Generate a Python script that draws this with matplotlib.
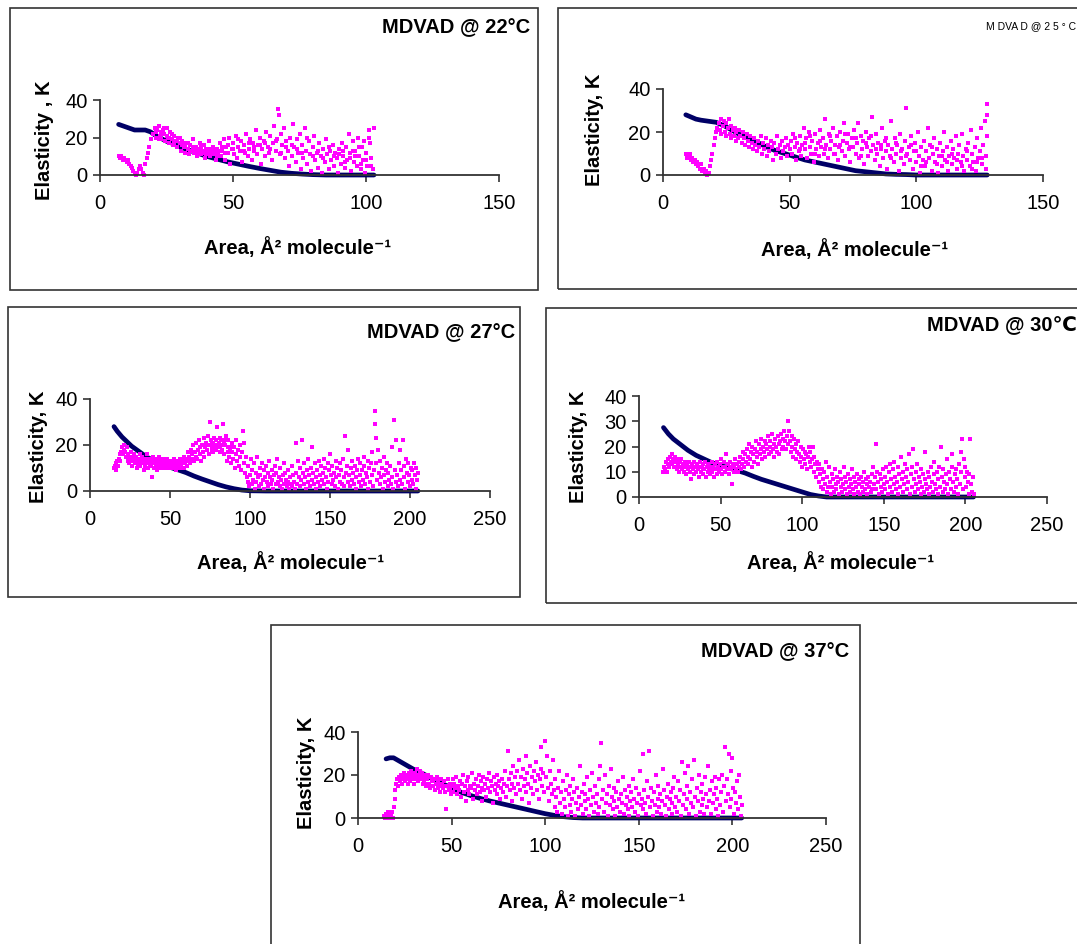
import matplotlib
matplotlib.use('Agg')
import matplotlib.pyplot as plt
from matplotlib.patches import Rectangle

# monolayer elasticity vs area, five temperatures
# blue = smoothed curve, pink = point-by-point values

blue_x_22 = [7, 9, 11, 13, 15, 17, 19, 21, 23, 25, 27, 30, 33, 36, 40, 44, 48, 52,
             56, 60, 64, 68, 72, 76, 80, 85, 90, 95, 100, 103]
blue_y_22 = [27, 26, 25, 24, 24, 24, 23, 21, 19.5, 18, 17, 15, 13.5, 12, 10, 8.5, 7,
             5.8, 4.6, 3.5, 2.5, 1.5, 0.9, 0.5, 0.2, 0, 0, 0, 0, 0]

pink_22 = [(7, 10), (7.5, 9), (8, 10), (8.5, 8), (9, 9), (9.5, 8), (10, 7), (10.5, 8), (11, 6),
           (11.5, 5), (12, 4), (12.5, 2), (13, 1), (13.5, 0), (14, 1), (14.5, 3), (15, 5),
           (15.5, 3), (16, 1), (16.5, 0), (17, 6), (17.5, 9), (18, 12), (18.5, 15), (19, 19),
           (20, 22), (20.5, 25), (21, 20), (21.5, 24), (22, 26), (22.5, 21), (23, 19), (23.5, 24),
           (24, 22), (24.5, 18), (25, 25), (25.5, 20), (26, 17), (26.5, 23), (27, 19), (27.5, 16),
           (28, 21), (28.5, 18), (29, 15), (29.5, 20), (30, 17), (30.5, 13), (31, 18), (31.5, 15),
           (32, 12), (32.5, 17), (33, 14), (33.5, 11), (34, 16), (34.5, 13), (35, 19), (35.5, 12),
           (36, 15), (36.5, 10), (37, 14), (37.5, 17), (38, 11), (38.5, 13), (39, 16), (39.5, 9),
           (40, 14), (40.5, 12), (41, 18), (41.5, 10), (42, 13), (42.5, 15), (43, 11), (43.5, 8),
           (44, 14), (44.5, 12), (45, 17), (45.5, 10), (46, 13), (46.5, 19), (47, 8), (47.5, 15),
           (48, 12), (48.5, 20), (49, 6), (49.5, 14), (50, 17), (50.5, 11), (51, 21), (51.5, 9),
           (52, 15), (52.5, 13), (53, 18), (53.5, 7), (54, 16), (54.5, 12), (55, 22), (55.5, 10),
           (56, 14), (56.5, 19), (57, 8), (57.5, 17), (58, 13), (58.5, 24), (59, 11), (59.5, 16),
           (60, 20), (60.5, 6), (61, 14), (61.5, 18), (62, 10), (62.5, 23), (63, 15), (63.5, 12),
           (64, 21), (64.5, 8), (65, 17), (65.5, 26), (66, 13), (66.5, 19), (67, 35), (67.2, 32),
           (67.5, 11), (68, 22), (68.5, 16), (69, 25), (69.5, 9), (70, 18), (70.5, 13), (71, 5),
           (71.5, 20), (72, 10), (72.5, 27), (73, 15), (73.5, 7), (74, 19), (74.5, 12), (75, 22),
           (75.5, 3), (76, 16), (76.5, 9), (77, 25), (77.5, 13), (78, 6), (78.5, 18), (79, 11),
           (79.5, 2), (80, 15), (80.5, 21), (81, 8), (81.5, 12), (82, 4), (82.5, 17), (83, 10),
           (83.5, 1), (84, 14), (84.5, 7), (85, 19), (85.5, 11), (86, 3), (86.5, 13), (87, 8),
           (87.5, 16), (88, 5), (88.5, 12), (89, 9), (89.5, 1), (90, 14), (90.5, 6), (91, 17),
           (91.5, 10), (92, 4), (92.5, 15), (93, 8), (93.5, 22), (94, 12), (94.5, 2), (95, 18),
           (95.5, 7), (96, 13), (96.5, 5), (97, 20), (97.5, 10), (98, 3), (98.5, 15), (99, 8),
           (99.5, 1), (100, 12), (100.5, 5), (101, 24), (101.5, 17), (102, 9), (102.5, 3), (103, 25),
           (21, 23), (22, 19), (23, 23), (24, 25), (25, 21), (26, 20), (27, 22), (28, 17), (29, 18),
           (30, 20), (31, 16), (32, 15), (33, 17), (34, 13), (35, 15), (36, 13), (37, 12), (38, 15),
           (39, 12), (40, 11), (41, 14), (42, 11), (43, 13), (44, 10), (45, 13), (46, 15), (47, 12),
           (48, 16), (50, 14), (52, 19), (54, 13), (56, 17), (58, 15), (60, 16), (62, 17), (64, 14),
           (66, 18), (68, 12), (70, 15), (72, 16), (74, 14), (76, 12), (78, 20), (80, 10), (82, 13),
           (84, 9), (86, 15), (88, 10), (90, 11), (92, 7), (94, 9), (96, 10), (98, 6), (100, 8),
           (102, 5), (97.3, 15), (99.2, 18), (101.3, 20), (95.3, 13), (91.4, 13)]

blue_x_25 = [9, 11, 13, 15, 18, 21, 24, 27, 30, 33, 36, 40, 44, 48, 52, 56, 60, 64, 68, 72,
             76, 80, 84, 88, 92, 96, 100, 105, 110, 115, 120, 125, 128]
blue_y_25 = [28, 27, 26, 25.5, 25, 24.5, 23, 21, 19, 17.5, 16, 13.5, 11.5, 10, 8.5, 7, 6, 5,
             4, 3, 2, 1.5, 1, 0.5, 0.3, 0.2, 0, 0, 0, 0, 0, 0, 0]

pink_25 = [(9, 10), (9.5, 8), (10, 9), (10.5, 10), (11, 7), (11.5, 8), (12, 6), (12.5, 7), (13, 5),
           (13.5, 6), (14, 4), (14.5, 3), (15, 5), (15.5, 2), (16, 3), (16.5, 1), (17, 2), (17.5, 0),
           (18, 1), (18.5, 4), (19, 7), (19.5, 10), (20, 14), (20.5, 17), (21, 20), (21.5, 22),
           (22, 24), (22.5, 21), (23, 26), (23.5, 23), (24, 25), (24.5, 20), (25, 24), (25.5, 22),
           (26, 26), (26.5, 19), (27, 23), (27.5, 21), (28, 18), (28.5, 22), (29, 20), (29.5, 17),
           (30, 21), (23, 19), (25, 18), (27, 17), (29, 16), (30.5, 18), (31, 15), (31.5, 20),
           (32, 17), (32.5, 14), (33, 19), (33.5, 16), (34, 13), (34.5, 18), (35, 15), (35.5, 12),
           (36, 17), (36.5, 14), (37, 11), (37.5, 16), (38, 13), (38.5, 18), (39, 10), (39.5, 15),
           (40, 12), (40.5, 17), (41, 9), (41.5, 14), (42, 11), (42.5, 16), (43, 13), (43.5, 7),
           (44, 15), (44.5, 10), (45, 18), (45.5, 12), (46, 14), (46.5, 8), (47, 16), (47.5, 11),
           (48, 13), (48.5, 17), (49, 9), (49.5, 14), (50, 12), (50.5, 16), (51, 10), (51.5, 19),
           (52, 13), (52.5, 7), (53, 15), (53.5, 11), (54, 18), (54.5, 9), (55, 14), (55.5, 22),
           (56, 12), (56.5, 17), (57, 8), (57.5, 20), (58, 13), (58.5, 10), (59, 16), (59.5, 6),
           (60, 19), (60.5, 12), (61, 15), (61.5, 9), (62, 21), (62.5, 13), (63, 17), (63.5, 10),
           (64, 26), (64.5, 14), (65, 8), (65.5, 19), (66, 12), (66.5, 16), (67, 22), (67.5, 10),
           (68, 14), (68.5, 18), (69, 7), (69.5, 13), (70, 20), (70.5, 11), (71, 16), (71.5, 24),
           (72, 9), (72.5, 15), (73, 19), (73.5, 12), (74, 6), (74.5, 17), (75, 13), (75.5, 21),
           (76, 10), (76.5, 15), (77, 24), (77.5, 8), (78, 18), (78.5, 12), (79, 16), (79.5, 5),
           (80, 20), (80.5, 13), (81, 9), (81.5, 17), (82, 11), (82.5, 27), (83, 14), (83.5, 7),
           (84, 19), (84.5, 10), (85, 15), (85.5, 4), (86, 12), (86.5, 22), (87, 8), (87.5, 16),
           (88, 11), (88.5, 3), (89, 14), (89.5, 9), (90, 25), (90.5, 12), (91, 6), (91.5, 17),
           (92, 10), (92.5, 14), (93, 2), (93.5, 19), (94, 8), (94.5, 12), (95, 5), (95.5, 16),
           (96, 31), (96.5, 10), (97, 13), (97.5, 7), (98, 18), (98.5, 3), (99, 11), (99.5, 15),
           (100, 6), (100.5, 20), (101, 9), (101.5, 1), (102, 13), (102.5, 7), (103, 16), (103.5, 4),
           (104, 11), (104.5, 22), (105, 8), (105.5, 14), (106, 2), (106.5, 10), (107, 17),
           (107.5, 6), (108, 12), (108.5, 1), (109, 9), (109.5, 15), (110, 4), (110.5, 11),
           (111, 20), (111.5, 7), (112, 13), (112.5, 2), (113, 9), (113.5, 16), (114, 5),
           (114.5, 12), (115, 8), (115.5, 18), (116, 3), (116.5, 10), (117, 14), (117.5, 6),
           (118, 19), (118.5, 9), (119, 2), (119.5, 12), (120, 7), (120.5, 15), (121, 4),
           (121.5, 21), (122, 10), (122.5, 6), (123, 13), (123.5, 2), (124, 17), (124.5, 8),
           (125, 11), (125.5, 22), (126, 5), (126.5, 14), (127, 25), (127.5, 9), (128, 33),
           (127.8, 28), (128, 18), (127.6, 3), (52, 17), (54, 12), (56, 15), (58, 18), (60, 10),
           (62, 16), (64, 12), (66, 18), (68, 10), (70, 14), (72, 19), (74, 13), (76, 17), (78, 9),
           (80, 15), (82, 18), (84, 12), (86, 14), (88, 17), (90, 8), (92, 15), (94, 11), (96, 9),
           (98, 14), (100, 11), (102, 4), (104, 6), (106, 13), (108, 5), (110, 9), (112, 6),
           (114, 10), (116, 7), (118, 4), (120, 11), (122, 3), (124, 6), (126, 8)]

blue_x_27 = [15, 17, 20, 23, 26, 30, 35, 40, 45, 50, 55, 60, 65, 70, 75, 80, 85, 90, 95, 100,
             110, 120, 140, 160, 180, 205]
blue_y_27 = [28, 26, 23.5, 21.5, 19.5, 17.5, 15, 13, 11.5, 10.3, 9.2, 8, 6.5, 5.2, 4, 2.8, 1.8,
             1, 0.4, 0.1, 0, 0, 0, 0, 0, 0]

pink_27 = [(15, 10), (15.5, 11), (16, 9), (16.5, 12), (17, 13), (17.5, 11), (18, 14), (18.5, 16),
           (19, 13), (19.5, 17), (20, 19), (20.5, 16), (21, 18), (21.5, 20), (22, 17), (22.5, 15),
           (23, 19), (23.5, 13), (24, 16), (24.5, 12), (25, 15), (25.5, 17), (26, 13), (26.5, 11),
           (27, 14), (27.5, 16), (28, 12), (28.5, 15), (29, 13), (29.5, 10), (30, 14), (30.5, 12),
           (31, 16), (31.5, 11), (32, 13), (32.5, 15), (33, 12), (33.5, 9), (34, 14), (34.5, 11),
           (35, 13), (35.5, 16), (36, 10), (36.5, 12), (37, 14), (37.5, 11), (38, 13), (38.5, 6),
           (39, 12), (39.5, 15), (40, 10), (40.5, 13), (41, 11), (41.5, 14), (42, 9), (42.5, 12),
           (43, 15), (43.5, 11), (44, 13), (44.5, 10), (45, 12), (26, 15), (28, 14), (30, 11),
           (32, 14), (34, 12), (36, 14), (38, 11), (40, 12), (42, 13), (44, 11), (45.5, 14),
           (46, 11), (46.5, 13), (47, 10), (47.5, 12), (48, 14), (48.5, 11), (49, 13), (49.5, 10),
           (50, 12), (50.5, 11), (51, 13), (51.5, 10), (52, 12), (52.5, 14), (53, 11), (53.5, 9),
           (54, 12), (54.5, 13), (55, 11), (55.5, 10), (56, 12), (56.5, 14), (57, 11), (57.5, 13),
           (58, 12), (58.5, 10), (59, 15), (59.5, 12), (60, 14), (60.5, 11), (61, 13), (61.5, 17),
           (62, 15), (47, 12), (49, 11), (51, 12), (53, 13), (55, 12), (57, 10), (62.5, 12),
           (63, 18), (63.5, 14), (64, 16), (64.5, 20), (65, 13), (65.5, 17), (66, 15), (66.5, 21),
           (67, 14), (67.5, 18), (68, 22), (68.5, 16), (69, 19), (69.5, 13), (70, 20), (70.5, 17),
           (71, 23), (71.5, 15), (72, 19), (72.5, 21), (73, 18), (73.5, 24), (74, 20), (74.5, 16),
           (75, 30), (75.5, 22), (76, 19), (76.5, 21), (77, 17), (77.5, 23), (78, 20), (78.5, 18),
           (79, 22), (79.5, 28), (80, 19), (80.5, 21), (81, 17), (81.5, 23), (82, 20), (82.5, 18),
           (83, 29), (83.5, 22), (84, 16), (84.5, 20), (85, 24), (85.5, 13), (86, 19), (86.5, 22),
           (87, 15), (87.5, 18), (88, 12), (88.5, 21), (89, 17), (89.5, 14), (90, 19), (90.5, 10),
           (91, 16), (91.5, 22), (92, 13), (92.5, 18), (93, 11), (93.5, 20), (94, 15), (94.5, 9),
           (95, 17), (95.5, 26), (96, 12), (96.5, 21), (97, 8), (97.5, 15), (98, 6), (78, 19),
           (80, 20), (82, 22), (79, 20), (81, 19), (77, 21), (76, 18), (84, 21), (86, 17), (88, 19),
           (98.5, 4), (99, 11), (99.5, 2), (100, 7), (100.5, 14), (101, 3), (101.5, 9), (102, 5),
           (102.5, 12), (103, 1), (103.5, 8), (104, 4), (104.5, 15), (105, 6), (105.5, 2), (106, 10),
           (106.5, 7), (107, 3), (107.5, 12), (108, 5), (108.5, 9), (109, 1), (109.5, 6), (110, 11),
           (110.5, 4), (111, 8), (111.5, 2), (112, 13), (112.5, 6), (113, 3), (113.5, 9), (114, 5),
           (114.5, 1), (115, 7), (115.5, 11), (116, 3), (116.5, 8), (117, 14), (117.5, 4), (118, 6),
           (118.5, 2), (119, 10), (119.5, 5), (120, 1), (120.5, 7), (121, 12), (121.5, 3), (122, 8),
           (122.5, 5), (123, 2), (123.5, 9), (124, 4), (124.5, 1), (125, 6), (125.5, 3), (126, 11),
           (126.5, 2), (127, 7), (127.5, 4), (128, 1), (128.5, 21), (129, 8), (129.5, 3), (130, 13),
           (130.5, 6), (131, 2), (131.5, 10), (132, 5), (132.5, 22), (133, 8), (133.5, 3), (134, 12),
           (134.5, 6), (135, 1), (135.5, 9), (136, 4), (136.5, 14), (137, 7), (137.5, 2), (138, 10),
           (138.5, 5), (139, 19), (139.5, 8), (140, 3), (140.5, 12), (141, 6), (141.5, 1), (142, 9),
           (142.5, 4), (143, 13), (143.5, 7), (144, 2), (144.5, 11), (145, 5), (145.5, 8), (146, 14),
           (146.5, 3), (147, 10), (147.5, 6), (148, 1), (148.5, 12), (149, 4), (149.5, 9), (150, 16),
           (150.5, 7), (151, 3), (151.5, 11), (152, 5), (152.5, 8), (153, 2), (153.5, 13), (154, 6),
           (154.5, 10), (155, 1), (155.5, 7), (156, 12), (156.5, 4), (157, 9), (157.5, 3), (158, 14),
           (158.5, 6), (159, 2), (159.5, 24), (160, 8), (160.5, 11), (161, 4), (161.5, 18), (162, 7),
           (162.5, 2), (163, 10), (163.5, 5), (164, 13), (164.5, 8), (165, 3), (165.5, 11), (166, 6),
           (166.5, 1), (167, 9), (167.5, 14), (168, 4), (168.5, 7), (169, 12), (169.5, 2), (170, 9),
           (170.5, 5), (171, 11), (171.5, 15), (172, 3), (172.5, 8), (173, 6), (173.5, 13), (174, 1),
           (174.5, 10), (175, 4), (175.5, 12), (176, 7), (176.5, 17), (177, 2), (177.5, 9), (178, 35),
           (178.2, 29), (178.5, 23), (179, 12), (179.5, 5), (180, 18), (180.5, 8), (181, 3),
           (181.5, 13), (182, 6), (182.5, 10), (183, 1), (183.5, 15), (184, 7), (184.5, 4), (185, 9),
           (185.5, 12), (186, 2), (186.5, 8), (187, 5), (187.5, 11), (188, 3), (188.5, 19), (189, 6),
           (189.5, 1), (190, 31), (190.5, 9), (191, 4), (191.5, 22), (192, 7), (192.5, 2), (193, 12),
           (193.5, 18), (194, 5), (194.5, 9), (195, 3), (195.5, 22), (196, 11), (196.5, 6), (197, 1),
           (197.5, 14), (198, 8), (198.5, 4), (199, 12), (199.5, 7), (200, 2), (200.5, 10), (201, 5),
           (201.5, 9), (202, 3), (202.5, 12), (203, 7), (203.5, 1), (204, 10), (204.5, 5), (205, 8)]

blue_x_30 = [15, 18, 21, 25, 30, 35, 40, 45, 50, 55, 60, 65, 70, 75, 80, 85, 90, 95, 100, 105,
             110, 115, 120, 140, 160, 180, 205]
blue_y_30 = [27.5, 25, 23, 21, 18.5, 16.5, 15, 13.5, 12.5, 11.5, 10.5, 9.5, 8.2, 7, 6, 5, 4, 3,
             2, 1, 0.4, 0, 0, 0, 0, 0, 0]

pink_30 = [(15, 10), (15.5, 12), (16, 11), (16.5, 14), (17, 10), (17.5, 13), (18, 15), (18.5, 12),
           (19, 16), (19.5, 14), (20, 17), (20.5, 13), (21, 15), (21.5, 12), (22, 16), (22.5, 14),
           (23, 11), (23.5, 15), (24, 13), (24.5, 10), (25, 14), (25.5, 12), (26, 15), (26.5, 11),
           (27, 13), (27.5, 10), (28, 14), (28.5, 12), (29, 9), (29.5, 13), (30, 11), (30.5, 14),
           (31, 10), (31.5, 12), (32, 7), (32.5, 13), (33, 11), (33.5, 14), (34, 9), (34.5, 12),
           (35, 10), (35.5, 13), (36, 11), (36.5, 8), (37, 12), (37.5, 14), (38, 10), (38.5, 12),
           (39, 9), (39.5, 13), (40, 11), (40.5, 14), (41, 8), (41.5, 12), (42, 10), (42.5, 13),
           (43, 11), (43.5, 9), (44, 12), (44.5, 14), (45, 10), (45.5, 12), (46, 8), (46.5, 13),
           (47, 11), (47.5, 14), (48, 9), (48.5, 12), (49, 10), (49.5, 13), (50, 11), (50.5, 15),
           (51, 9), (51.5, 12), (52, 14), (52.5, 10), (53, 12), (53.5, 17), (54, 11), (54.5, 13),
           (55, 9), (55.5, 12), (56, 14), (56.5, 11), (57, 5), (57.5, 13), (58, 10), (58.5, 12),
           (59, 15), (59.5, 11), (60, 13), (27, 12), (30, 12), (33, 12), (36, 12), (39, 11),
           (42, 12), (45, 11), (48, 11), (21, 14), (24, 12), (60.5, 10), (61, 14), (61.5, 12),
           (62, 16), (62.5, 11), (63, 13), (63.5, 18), (64, 15), (64.5, 12), (65, 17), (65.5, 14),
           (66, 19), (66.5, 13), (67, 16), (67.5, 21), (68, 15), (68.5, 18), (69, 12), (69.5, 20),
           (70, 17), (70.5, 14), (71, 19), (71.5, 22), (72, 16), (72.5, 18), (73, 13), (73.5, 21),
           (74, 17), (74.5, 19), (75, 23), (75.5, 15), (76, 20), (76.5, 18), (77, 22), (77.5, 16),
           (78, 21), (78.5, 19), (79, 24), (79.5, 17), (80, 20), (80.5, 22), (81, 18), (81.5, 25),
           (82, 19), (82.5, 21), (83, 16), (83.5, 23), (84, 20), (84.5, 18), (85, 24), (85.5, 21),
           (86, 17), (86.5, 22), (87, 25), (87.5, 19), (88, 23), (88.5, 20), (89, 26), (89.5, 22),
           (90, 19), (90.5, 24), (91, 21), (91.5, 30), (92, 26), (92.5, 22), (93, 18), (93.5, 24),
           (94, 20), (94.5, 16), (95, 23), (95.5, 19), (96, 21), (96.5, 15), (97, 18), (97.5, 22),
           (98, 17), (98.5, 14), (99, 20), (99.5, 16), (100, 12), (100.5, 19), (101, 15), (101.5, 18),
           (102, 13), (102.5, 17), (103, 11), (103.5, 16), (104, 20), (104.5, 14), (105, 18),
           (105.5, 12), (106, 15), (106.5, 20), (107, 10), (107.5, 16), (108, 13), (108.5, 8),
           (109, 14), (109.5, 11), (110, 6), (110.5, 13), (111, 9), (111.5, 4), (112, 11),
           (112.5, 7), (113, 3), (113.5, 10), (114, 5), (114.5, 14), (115, 2), (115.5, 8), (116, 4),
           (116.5, 12), (117, 6), (117.5, 1), (118, 9), (118.5, 4), (119, 7), (119.5, 2), (120, 11),
           (120.5, 5), (121, 3), (121.5, 8), (122, 6), (122.5, 1), (123, 10), (123.5, 4), (124, 7),
           (124.5, 2), (125, 5), (125.5, 12), (126, 3), (126.5, 8), (127, 6), (127.5, 1), (128, 9),
           (128.5, 4), (129, 7), (129.5, 2), (130, 5), (130.5, 11), (131, 3), (131.5, 8), (132, 1),
           (132.5, 6), (133, 4), (133.5, 9), (134, 2), (134.5, 7), (135, 5), (135.5, 1), (136, 8),
           (136.5, 4), (137, 6), (137.5, 2), (138, 10), (138.5, 3), (139, 7), (139.5, 5), (140, 1),
           (140.5, 8), (141, 4), (141.5, 6), (142, 2), (142.5, 9), (143, 3), (143.5, 12), (144, 5),
           (144.5, 8), (145, 21), (145.5, 3), (146, 10), (146.5, 6), (147, 1), (147.5, 9), (148, 4),
           (148.5, 7), (149, 2), (149.5, 11), (150, 5), (150.5, 8), (151, 3), (151.5, 12), (152, 6),
           (152.5, 1), (153, 10), (153.5, 4), (154, 13), (154.5, 7), (155, 2), (155.5, 11), (156, 5),
           (156.5, 14), (157, 8), (157.5, 3), (158, 6), (158.5, 12), (159, 1), (159.5, 9), (160, 4),
           (160.5, 16), (161, 7), (161.5, 2), (162, 10), (162.5, 5), (163, 13), (163.5, 8), (164, 3),
           (164.5, 11), (165, 6), (165.5, 17), (166, 1), (166.5, 9), (167, 4), (167.5, 12), (168, 19),
           (168.5, 7), (169, 2), (169.5, 10), (170, 5), (170.5, 13), (171, 3), (171.5, 8), (172, 6),
           (172.5, 1), (173, 11), (173.5, 4), (174, 9), (174.5, 2), (175, 7), (175.5, 18), (176, 5),
           (176.5, 3), (177, 10), (177.5, 1), (178, 8), (178.5, 4), (179, 12), (179.5, 6), (180, 2),
           (180.5, 9), (181, 14), (181.5, 5), (182, 3), (182.5, 10), (183, 7), (183.5, 1), (184, 12),
           (184.5, 4), (185, 20), (185.5, 8), (186, 2), (186.5, 11), (187, 6), (187.5, 3), (188, 9),
           (188.5, 15), (189, 5), (189.5, 1), (190, 10), (190.5, 7), (191, 3), (191.5, 12), (192, 17),
           (192.5, 6), (193, 2), (193.5, 9), (194, 4), (194.5, 11), (195, 7), (195.5, 1), (196, 13),
           (196.5, 5), (197, 18), (197.5, 10), (198, 23), (198.5, 3), (199, 15), (199.5, 8), (200, 12),
           (200.5, 4), (201, 10), (201.5, 6), (202, 1), (202.5, 9), (203, 23), (203.5, 5), (204, 2),
           (204.5, 8), (205, 1)]

blue_x_37 = [15, 17, 19, 21, 24, 27, 30, 35, 40, 45, 50, 55, 60, 65, 70, 75, 80, 85, 90, 95,
             100, 105, 110, 115, 120, 140, 160, 180, 205]
blue_y_37 = [27.5, 28, 28, 27, 25.5, 24, 22.5, 20.5, 18, 16, 14, 12, 10.5, 9.2, 8, 7, 6, 5, 4,
             3, 2, 1.2, 0.6, 0.2, 0, 0, 0, 0, 0]

pink_37 = [(14, 1), (14.5, 0), (15, 2), (15.5, 1), (16, 3), (16.5, 0), (17, 2), (17.5, 1), (18, 3),
           (18.5, 0), (19, 5), (19.5, 9), (20, 13), (20.5, 16), (21, 18), (21.5, 15), (22, 19),
           (22.5, 17), (23, 20), (23.5, 16), (24, 19), (24.5, 21), (25, 17), (25.5, 20), (26, 18),
           (26.5, 16), (27, 21), (27.5, 19), (28, 17), (28.5, 22), (29, 18), (29.5, 20), (30, 16),
           (30.5, 21), (31, 19), (31.5, 23), (32, 17), (32.5, 20), (33, 22), (33.5, 18), (34, 21),
           (34.5, 16), (35, 20), (24, 18), (26, 20), (28, 19), (30, 18), (32, 19), (34, 19),
           (35.5, 17), (36, 19), (36.5, 15), (37, 18), (37.5, 20), (38, 16), (38.5, 14), (39, 19),
           (39.5, 17), (40, 15), (40.5, 18), (41, 13), (41.5, 16), (42, 19), (42.5, 14), (43, 17),
           (43.5, 15), (44, 12), (44.5, 18), (45, 16), (45.5, 14), (46, 17), (46.5, 12), (47, 4),
           (47.5, 15), (48, 18), (48.5, 13), (49, 16), (49.5, 11), (50, 15), (37, 16), (40, 17),
           (43, 16), (46, 15), (49, 14), (50.5, 18), (51, 12), (51.5, 16), (52, 14), (52.5, 19),
           (53, 11), (53.5, 15), (54, 13), (54.5, 17), (55, 10), (55.5, 16), (56, 20), (56.5, 12),
           (57, 15), (57.5, 8), (58, 17), (58.5, 13), (59, 19), (59.5, 11), (60, 15), (60.5, 14),
           (61, 21), (61.5, 9), (62, 16), (62.5, 13), (63, 18), (63.5, 11), (64, 15), (64.5, 20),
           (65, 12), (65.5, 17), (66, 8), (66.5, 14), (67, 19), (67.5, 13), (68, 16), (68.5, 10),
           (69, 18), (69.5, 14), (70, 21), (70.5, 12), (71, 17), (71.5, 15), (72, 7), (72.5, 19),
           (73, 13), (73.5, 16), (74, 11), (74.5, 20), (75, 15), (75.5, 17), (76, 9), (76.5, 14),
           (77, 18), (77.5, 12), (78, 16), (78.5, 22), (79, 10), (79.5, 15), (80, 31), (80.5, 18),
           (81, 13), (81.5, 21), (82, 16), (82.5, 8), (83, 24), (83.5, 14), (84, 19), (84.5, 11),
           (85, 22), (85.5, 16), (86, 27), (86.5, 13), (87, 19), (87.5, 9), (88, 23), (88.5, 15),
           (89, 18), (89.5, 29), (90, 12), (90.5, 21), (91, 16), (91.5, 7), (92, 24), (92.5, 14),
           (93, 19), (93.5, 11), (94, 22), (94.5, 17), (95, 26), (95.5, 13), (96, 20), (96.5, 9),
           (97, 18), (97.5, 23), (98, 33), (98.5, 15), (99, 21), (99.5, 12), (100, 36), (100.5, 19),
           (101, 29), (101.5, 14), (102, 8), (102.5, 22), (103, 16), (103.5, 11), (104, 27),
           (104.5, 13), (105, 5), (105.5, 18), (106, 10), (106.5, 3), (107, 14), (107.5, 22),
           (108, 7), (108.5, 12), (109, 2), (109.5, 17), (110, 9), (110.5, 5), (111, 13), (111.5, 20),
           (112, 1), (112.5, 11), (113, 6), (113.5, 15), (114, 3), (114.5, 9), (115, 18), (115.5, 12),
           (116, 1), (116.5, 7), (117, 14), (117.5, 4), (118, 10), (118.5, 24), (119, 6), (119.5, 12),
           (120, 2), (120.5, 16), (121, 8), (121.5, 11), (122, 4), (122.5, 19), (123, 9), (123.5, 1),
           (124, 13), (124.5, 6), (125, 21), (125.5, 10), (126, 3), (126.5, 15), (127, 7), (127.5, 11),
           (128, 2), (128.5, 18), (129, 5), (129.5, 24), (130, 35), (130.5, 9), (131, 13), (131.5, 3),
           (132, 20), (132.5, 7), (133, 11), (133.5, 1), (134, 15), (134.5, 6), (135, 23), (135.5, 10),
           (136, 4), (136.5, 14), (137, 8), (137.5, 1), (138, 12), (138.5, 5), (139, 17), (139.5, 9),
           (140, 3), (140.5, 11), (141, 7), (141.5, 19), (142, 2), (142.5, 13), (143, 6), (143.5, 10),
           (144, 4), (144.5, 15), (145, 1), (145.5, 8), (146, 12), (146.5, 5), (147, 18), (147.5, 9),
           (148, 3), (148.5, 14), (149, 7), (149.5, 1), (150, 11), (150.5, 22), (151, 6), (151.5, 9),
           (152, 30), (152.5, 4), (153, 13), (153.5, 7), (154, 2), (154.5, 17), (155, 10), (155.5, 31),
           (156, 5), (156.5, 14), (157, 8), (157.5, 1), (158, 12), (158.5, 6), (159, 20), (159.5, 3),
           (160, 9), (160.5, 15), (161, 5), (161.5, 11), (162, 2), (162.5, 8), (163, 23), (163.5, 13),
           (164, 6), (164.5, 1), (165, 10), (165.5, 16), (166, 4), (166.5, 9), (167, 12), (167.5, 2),
           (168, 7), (168.5, 14), (169, 19), (169.5, 5), (170, 10), (170.5, 3), (171, 17), (171.5, 8),
           (172, 13), (172.5, 1), (173, 26), (173.5, 6), (174, 11), (174.5, 21), (175, 4), (175.5, 15),
           (176, 9), (176.5, 24), (177, 2), (177.5, 12), (178, 7), (178.5, 18), (179, 5), (179.5, 27),
           (180, 10), (180.5, 1), (181, 14), (181.5, 8), (182, 20), (182.5, 3), (183, 12), (183.5, 6),
           (184, 16), (184.5, 9), (185, 2), (185.5, 19), (186, 11), (186.5, 5), (187, 24), (187.5, 8),
           (188, 13), (188.5, 2), (189, 17), (189.5, 7), (190, 11), (190.5, 19), (191, 4), (191.5, 14),
           (192, 9), (192.5, 1), (193, 18), (193.5, 6), (194, 12), (194.5, 20), (195, 3), (195.5, 15),
           (196, 33), (196.5, 8), (197, 18), (197.5, 11), (198, 30), (198.5, 5), (199, 22), (199.5, 9),
           (200, 28), (200.5, 14), (201, 2), (201.5, 12), (202, 7), (202.5, 17), (203, 4), (203.5, 20),
           (204, 10), (204.5, 1), (205, 6)]

NAVY = '#000066'
PINK = '#FF00FF'
FONT = ['Liberation Sans Narrow', 'Liberation Sans', 'DejaVu Sans']
XLAB = 'Area, Å² molecule⁻¹'

W, H = 1077, 944
fig = plt.figure(figsize=(W / 100, H / 100), dpi=100)
fig.patch.set_facecolor('white')


def fx(px):
    return px / W


def fy(py):
    return 1 - py / H


#draw one excel-style chart: frame, axes, both series and texts (pixel coords)
def panel(box, area, xmax, yticks, bx, by, pink, title, title_xy, title_kw,
          ylabel, ylab_xy, xlab_xy):
    fig.add_artist(Rectangle((fx(box[0]), fy(box[3])), fx(box[2] - box[0]),
                             (box[3] - box[1]) / H, transform=fig.transFigure,
                             fill=False, ec='#333333', lw=1.2))
    l, t, r, b = area
    ax = fig.add_axes([fx(l), fy(b), fx(r - l), (b - t) / H])
    ax.plot(bx, by, '-', color=NAVY, lw=3.4, solid_capstyle='round', clip_on=False)
    px = [p[0] for p in pink]
    py = [p[1] for p in pink]
    ax.plot(px, py, 's', color=PINK, ms=2.5, mew=0, clip_on=False)
    ax.set_xlim(0, xmax)
    ax.set_ylim(0, 40)
    ax.set_xticks(range(0, xmax + 1, 50))
    ax.set_yticks(yticks)
    for s in ['top', 'right']:
        ax.spines[s].set_visible(False)
    for s in ['left', 'bottom']:
        ax.spines[s].set_color('#333333')
        ax.spines[s].set_linewidth(1.3)
    ax.tick_params(direction='out', length=5, width=1.2, color='#333333',
                   labelsize=14.5)
    ax.tick_params(axis='x', pad=9)
    ax.tick_params(axis='y', pad=4)
    for lab in ax.get_xticklabels() + ax.get_yticklabels():
        lab.set_family(FONT)
    ax.patch.set_alpha(0)
    fig.text(fx(title_xy[0]), fy(title_xy[1]), title, ha='right', va='center',
             family=FONT, **title_kw)
    fig.text(fx(ylab_xy[0]), fy(ylab_xy[1]), ylabel, rotation=90, ha='center',
             va='center', fontsize=14.5, fontweight='bold', family=FONT)
    fig.text(fx(xlab_xy[0]), fy(xlab_xy[1]), XLAB, ha='center', va='center',
             fontsize=14.5, fontweight='bold', family=FONT)
    return ax


bold = {'fontsize': 14.5, 'fontweight': 'bold'}

panel((10, 8, 538, 290), (100, 100, 499, 175), 150, [0, 20, 40],
      blue_x_22, blue_y_22, pink_22, 'MDVAD @ 22°C', (530, 28), bold,
      'Elasticity , K', (45, 140), (298, 248))

panel((558, 8, 1085, 289), (663, 89, 1043, 175), 150, [0, 20, 40],
      blue_x_25, blue_y_25, pink_25, 'M DVA D @ 2 5 ° C', (1076, 26),
      {'fontsize': 7.5},
      'Elasticity, K', (595, 130), (855, 250))

panel((8, 307, 520, 597), (90, 399, 490, 491), 250, [0, 20, 40],
      blue_x_27, blue_y_27, pink_27, 'MDVAD @ 27°C', (515, 333), bold,
      'Elasticity, K', (38, 447), (291, 563))

panel((546, 308, 1085, 603), (639, 396, 1047, 497), 250, [0, 10, 20, 30, 40],
      blue_x_30, blue_y_30, pink_30, 'MDVAD @ 30℃', (1077, 326), bold,
      'Elasticity, K', (579, 447), (841, 563))

panel((271, 625, 860, 950), (358, 732, 826, 818), 250, [0, 20, 40],
      blue_x_37, blue_y_37, pink_37, 'MDVAD @ 37°C', (849, 652), bold,
      'Elasticity, K', (306, 773), (592, 902))

plt.savefig('out.png', dpi=100)
